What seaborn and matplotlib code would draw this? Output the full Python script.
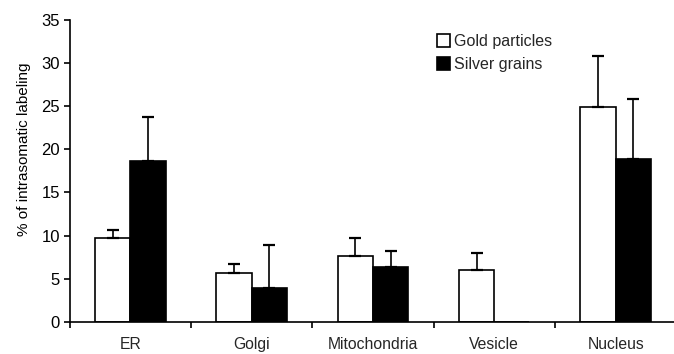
import matplotlib
matplotlib.use("Agg")
import matplotlib.pyplot as plt
import seaborn as sns
import pandas as pd
import numpy as np

sns.set_theme(style="white")
plt.rcParams['font.family'] = ['Liberation Sans', 'DejaVu Sans']

categories = ["ER", "Golgi", "Mitochondria", "Vesicle", "Nucleus"]
gold = [9.7, 5.7, 7.6, 5.95, 24.9]
gold_err = [0.9, 0.95, 2.1, 2.0, 5.9]
silver = [18.7, 3.95, 6.3, 0.0, 18.9]
silver_err = [5.0, 4.9, 1.9, 0.0, 6.9]
series = ["Gold particles", "Silver grains"]

df = pd.DataFrame({
    "category": categories * 2,
    "value": gold + silver,
    "series": [series[0]] * 5 + [series[1]] * 5,
})

fig = plt.figure(figsize=(6.74, 3.54), dpi=100)
ax = fig.add_axes([0.1034, 0.0912, 0.9, 0.8523])

sns.barplot(data=df, x="category", y="value", hue="series", palette=["white", "black"],
            edgecolor="black", linewidth=1.2, width=0.58, gap=0, errorbar=None,
            legend=False, ax=ax)

# upward-only error bars at the bar centres
w = 0.29
x = np.arange(len(categories))
for off, vals, errs in [(-w / 2, gold, gold_err), (w / 2, silver, silver_err)]:
    keep = [i for i in range(len(vals)) if errs[i] > 0]
    ax.errorbar(x[keep] + off, [vals[i] for i in keep],
                yerr=[[0] * len(keep), [errs[i] for i in keep]],
                fmt="none", ecolor="black", elinewidth=1.2, capsize=4, capthick=1.6, zorder=1)

ax.set_xlim(-0.5, 4.5)
ax.set_ylim(0, 35)
ax.set_yticks(range(0, 36, 5))
ax.set_xticks(np.arange(-0.5, 4.5, 1.0))
ax.set_xticklabels([])
ax.set_xticks(x, minor=True)
ax.set_xticklabels(categories, minor=True, fontsize=11.3)
ax.tick_params(axis="x", which="minor", bottom=True, length=0, pad=11)
ax.tick_params(axis="x", which="major", bottom=True, length=4, width=1.2, direction="out", color="black")
ax.tick_params(axis="y", left=True, length=4, width=1.2, direction="out", color="black",
               labelsize=12, pad=3, labelcolor="black")
ax.tick_params(axis="x", labelcolor="black")
ax.set_xlabel("")
ax.set_ylabel("% of intrasomatic labeling", fontsize=11, color="black")
ax.yaxis.set_label_coords(-0.063, 0.57)

for s in ["top", "right"]:
    ax.spines[s].set_visible(False)
for s in ["left", "bottom"]:
    ax.spines[s].set_color("black")
    ax.spines[s].set_linewidth(1.2)

handles = [plt.Rectangle((0, 0), 1, 1, facecolor=c, edgecolor="black", linewidth=1.2)
           for c in ["white", "black"]]
ax.legend(handles, series, loc="upper left", bbox_to_anchor=(0.59, 0.985), frameon=False,
          fontsize=11.5, handlelength=0.8, handleheight=0.8, handletextpad=0.25,
          labelspacing=0.5, borderaxespad=0.2)

fig.savefig("out.png", dpi=100)
plt.close(fig)
